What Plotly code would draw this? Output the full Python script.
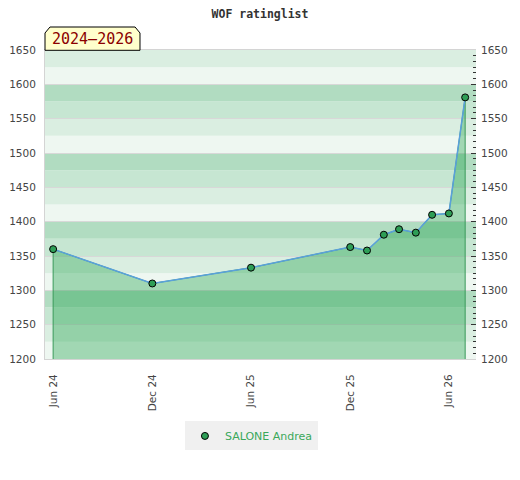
import plotly.graph_objects as go

# ---- data ----
dates = ["2024-06-01", "2024-12-01", "2025-06-01", "2025-12-01", "2026-01-01",
         "2026-02-01", "2026-03-01", "2026-04-01", "2026-05-01", "2026-06-01",
         "2026-07-01"]
ratings = [1360, 1310, 1333, 1363, 1358, 1381, 1389, 1384, 1410, 1412, 1581]
player = "SALONE Andrea"
period_label = "2024\u20132026"
title_text = "WOF ratinglist"
xtick_vals = ["2024-06-01", "2024-12-01", "2025-06-01", "2025-12-01", "2026-06-01"]
xtick_text = ["Jun 24", "Dec 24", "Jun 25", "Dec 25", "Jun 26"]
ytick_vals = [1200, 1250, 1300, 1350, 1400, 1450, 1500, 1550, 1600, 1650]

# ---- style ----
Y_MIN, Y_MAX = 1200, 1650
X_RANGE = ["2024-05-17", "2026-07-21"]
band_colors = ["#eef7f1", "#daeee1", "#c6e6d2", "#b1dcc1"]  # x00-x25, x25-x50, x50-x75, x75-x00
TICK_FONT = dict(family="DejaVu Sans", size=10.5, color="#444")

fig = go.Figure()

# background bands (each 25 points)
shapes = []
b = Y_MIN
i = 0
while b < Y_MAX:
    shapes.append(dict(type="rect", xref="paper", yref="y", x0=0, x1=1, y0=b, y1=b + 25,
                       fillcolor=band_colors[i % 4], line=dict(width=0), layer="below"))
    b += 25
    i += 1

# period label box with cut top corners
shapes.append(dict(type="path", xref="paper", yref="paper",
                   path="M 0,0.999 L 0,1.055 L 0.0116,1.0744 L 0.209,1.0744 L 0.2204,1.055 L 0.2204,0.999 Z",
                   fillcolor="#ffffcc", line=dict(color="black", width=1), layer="above"))

# filled area with green edges
fig.add_trace(go.Scatter(
    x=[dates[0]] + dates + [dates[-1]],
    y=[Y_MIN] + ratings + [Y_MIN],
    mode="lines", fill="toself", fillcolor="rgba(0,150,50,0.32)",
    line=dict(color="#3a9a5a", width=1), hoverinfo="skip", showlegend=False))

# rating line
fig.add_trace(go.Scatter(x=dates, y=ratings, mode="lines",
                         line=dict(color="#5aa0dc", width=1.5), showlegend=False))

# markers (legend entry) on y2 so the right axis is drawn
fig.add_trace(go.Scatter(x=dates, y=ratings, mode="markers", name=player, yaxis="y2",
                         marker=dict(size=7, color="#2e9e56", line=dict(color="black", width=1))))

fig.update_layout(
    width=520, height=480,
    margin=dict(l=37, r=52, t=42, b=129, autoexpand=False),
    paper_bgcolor="white", plot_bgcolor="white",
    shapes=shapes,
    title=dict(text=title_text, x=252 / 520, xref="container", xanchor="center",
               y=1 - 6 / 480, yanchor="middle",
               font=dict(family="DejaVu Sans Mono", size=11.5, color="#333", weight="bold")),
    xaxis=dict(type="date", range=X_RANGE, tickvals=xtick_vals, ticktext=xtick_text,
               tickangle=-90, tickfont=TICK_FONT, ticks="", ticklabelstandoff=10,
               showgrid=False, zeroline=False, showline=True, mirror=True,
               linecolor="#d4d4d4", linewidth=1, automargin=False),
    yaxis=dict(range=[Y_MIN, Y_MAX], tickvals=ytick_vals, tickfont=TICK_FONT, ticks="",
               ticklabelstandoff=6, showgrid=True, gridcolor="#d8d8d8", gridwidth=1,
               zeroline=False, showline=True, linecolor="#d4d4d4", linewidth=1,
               automargin=False),
    yaxis2=dict(range=[Y_MIN, Y_MAX], tickvals=ytick_vals, tickfont=TICK_FONT,
                overlaying="y", side="right", showgrid=False, zeroline=False,
                ticks="inside", ticklen=5, tickcolor="#333", tickwidth=1,
                ticklabelstandoff=4, automargin=False,
                minor=dict(dtick=50 / 6, ticks="inside", ticklen=3, tickcolor="#333",
                           tickwidth=1, showgrid=False)),
    legend=dict(orientation="h", x=0.479, xanchor="center", y=-0.249, yanchor="middle",
                bgcolor="#f0f0f0", font=dict(family="DejaVu Sans", size=11, color="#3aa85a")),
    annotations=[dict(text=period_label, xref="paper", yref="paper", x=0.1102, y=1.0356,
                      xanchor="center", yanchor="middle", showarrow=False,
                      font=dict(family="DejaVu Sans Mono", size=15, color="#8b0000"))],
)

fig.write_html("out.html")
